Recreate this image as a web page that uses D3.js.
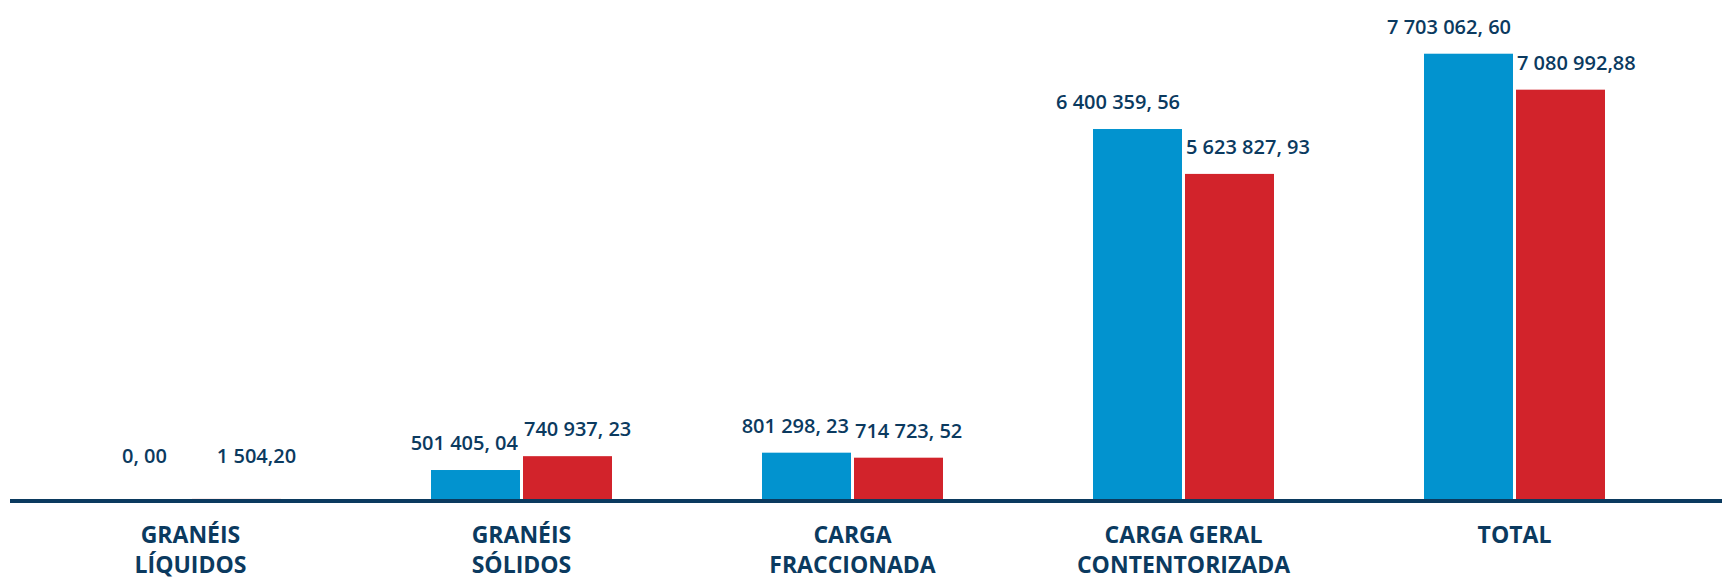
<!DOCTYPE html>
<html>
<head>
<meta charset="utf-8">
<script src="https://cdn.jsdelivr.net/npm/d3@7"></script>
<style>
  html, body { margin: 0; padding: 0; background: #ffffff; }
  svg { display: block; }
</style>
</head>
<body>
<svg id="chart" width="1722" height="579"></svg>
<script>
// ---- data ----
const categories = ["GRANÉIS LÍQUIDOS", "GRANÉIS SÓLIDOS", "CARGA FRACCIONADA", "CARGA GERAL CONTENTORIZADA", "TOTAL"];
const categoryLines = [["GRANÉIS", "LÍQUIDOS"], ["GRANÉIS", "SÓLIDOS"], ["CARGA", "FRACCIONADA"], ["CARGA GERAL", "CONTENTORIZADA"], ["TOTAL"]];
const seriesKeys = ["serieA", "serieB"];
const serieA = [0.00, 501405.04, 801298.23, 6400359.56, 7703062.60];
const serieB = [1504.20, 740937.23, 714723.52, 5623827.93, 7080992.88];
const labelsA = ["0, 00", "501 405, 04", "801 298, 23", "6 400 359, 56", "7 703 062, 60"];
const labelsB = ["1 504,20", "740 937, 23", "714 723, 52", "5 623 827, 93", "7 080 992,88"];

// ---- layout ----
const W = 1722, H = 579;
const colors = { serieA: "#0293CF", serieB: "#D2232B" };
const navy = "#0B3A5F";
const svg = d3.select("#chart");

const x0 = d3.scaleBand().domain(categories).range([25, 1680]).paddingInner(0.4532).paddingOuter(0.2266);
const x1 = d3.scaleBand().domain(seriesKeys).range([0, x0.bandwidth()]).paddingInner(0.0326).paddingOuter(0);
const y = d3.scaleLinear().domain([0, 7750000]).range([499, 51]);

const rows = categories.map((c, i) => ({
  cat: c,
  lines: categoryLines[i],
  bars: [
    { key: "serieA", value: serieA[i], label: labelsA[i] },
    { key: "serieB", value: serieB[i], label: labelsB[i] }
  ]
}));

const groups = svg.append("g").selectAll("g").data(rows).join("g")
  .attr("transform", d => `translate(${x0(d.cat)},0)`);

groups.selectAll("rect").data(d => d.bars).join("rect")
  .attr("x", d => x1(d.key))
  .attr("width", x1.bandwidth())
  .attr("y", d => y(d.value))
  .attr("height", d => y(0) - y(d.value))
  .attr("fill", d => colors[d.key]);

groups.selectAll("text.val").data(d => d.bars).join("text")
  .attr("class", "val")
  .attr("x", d => {
    const h = y(0) - y(d.value);
    if (h < 2) return d.key === "serieA" ? x1(d.key) + x1.bandwidth() / 2 : x1(d.key) + x1.bandwidth() / 2 + 20;
    return d.key === "serieA" ? x1(d.key) + x1.bandwidth() - 2 : x1(d.key) + 1;
  })
  .attr("text-anchor", d => {
    const h = y(0) - y(d.value);
    if (h < 2) return "middle";
    return d.key === "serieA" ? "end" : "start";
  })
  .attr("y", d => Math.min(y(d.value) - 20, y(0) - 36))
  .attr("fill", navy)
  .style("font-family", "'Open Sans', sans-serif")
  .style("font-size", "20px")
  .style("font-weight", 600)
  .text(d => d.label);

// baseline line
svg.append("line")
  .attr("x1", 10).attr("x2", W)
  .attr("y1", y(0) + 2).attr("y2", y(0) + 2)
  .attr("stroke", navy).attr("stroke-width", 4);

// category axis
const axis = svg.append("g")
  .attr("transform", `translate(0,${y(0) + 4})`)
  .call(d3.axisBottom(x0).tickSize(0).tickFormat(""));
axis.select(".domain").remove();
axis.selectAll(".tick text").remove();
axis.selectAll(".tick").each(function(d, i) {
  const t = d3.select(this).append("text")
    .attr("text-anchor", "middle")
    .attr("fill", navy)
    .style("font-family", "'Open Sans', sans-serif")
    .style("font-size", "23px")
    .style("font-weight", 700);
  categoryLines[i].forEach((ln, j) => {
    t.append("tspan").attr("x", 0).attr("y", 40 + j * 30).text(ln);
  });
});
</script>
</body>
</html>
